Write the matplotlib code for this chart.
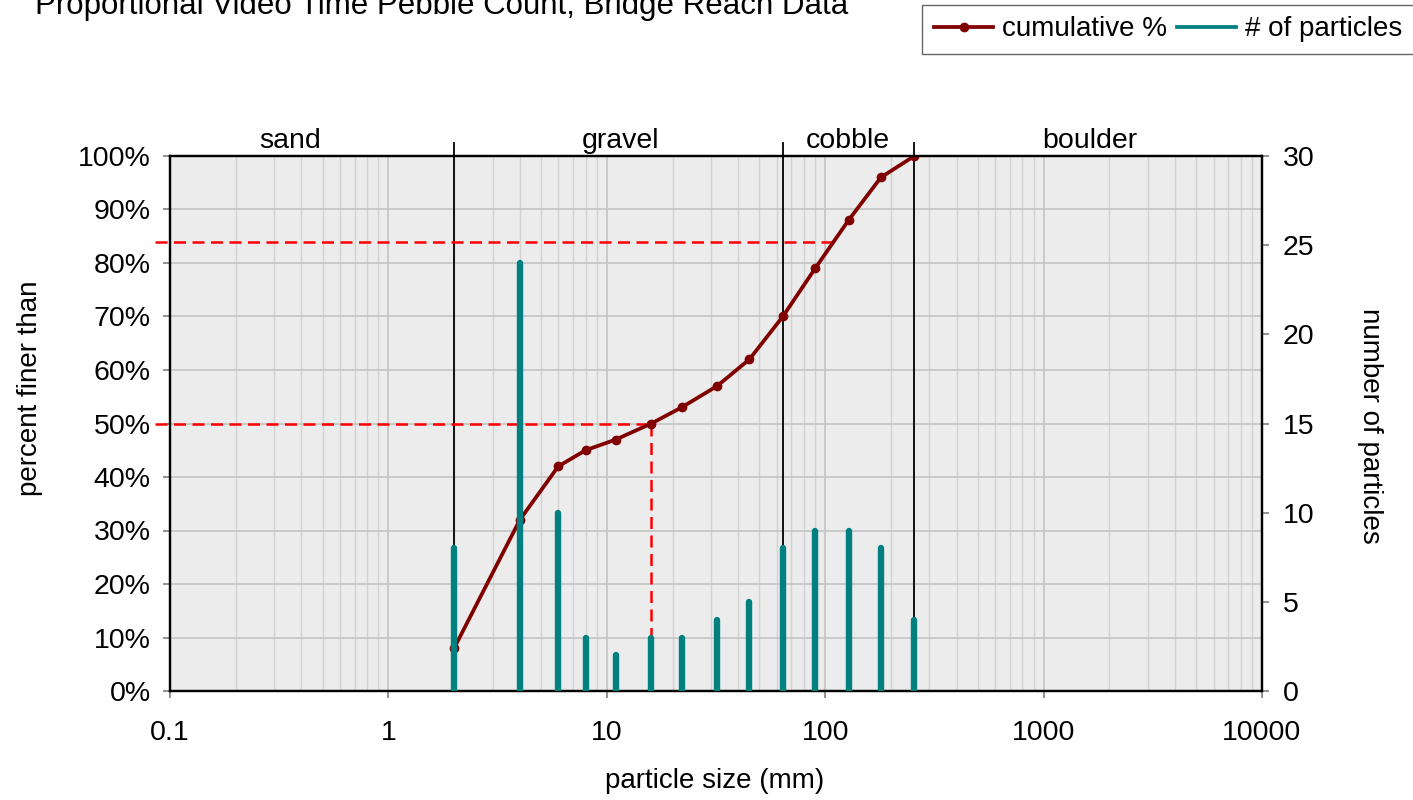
import numpy as np
import matplotlib
matplotlib.use('Agg')
import matplotlib.pyplot as plt
from matplotlib.ticker import FuncFormatter, LogLocator, FixedLocator

plt.rcParams['font.family'] = ['Liberation Sans', 'DejaVu Sans']

# particle sizes (mm), counts and cumulative percent finer
sizes = [2, 4, 6, 8, 11, 16, 22, 32, 45, 64, 90, 128, 180, 256,
         362, 512, 1024, 2048, 4096]
counts = [8, 24, 10, 3, 2, 3, 3, 4, 5, 8, 9, 9, 8, 4, 0, 0, 0, 0, 0]
cum_sizes = [2, 4, 6, 8, 11, 16, 22, 32, 45, 64, 90, 128, 180, 256]
cum_pct = [8, 32, 42, 45, 47, 50, 53, 57, 62, 70, 79, 88, 96, 100]

class_bounds = [2, 64, 256]
class_names = ['sand', 'gravel', 'cobble', 'boulder']
class_centers = [0.354, 11.5, 127, 1630]
d50, d84 = 16, 109

fs = 20.5

fig = plt.figure(figsize=(14.13, 8), dpi=100)
ax = fig.add_axes([0.1203, 0.13625, 0.7728, 0.66875])
ax2 = ax.twinx()

ax.set_facecolor('#ececec')
ax.set_xscale('log')
ax.set_xlim(0.1, 10000)
ax.set_ylim(0, 100)
ax2.set_ylim(0, 30)

# grid
ax.xaxis.set_minor_locator(LogLocator(base=10, subs=np.arange(2, 10)))
ax.grid(True, which='major', axis='both', color='#c4c4c4', lw=1.2)
ax.grid(True, which='minor', axis='x', color='#d2d2d2', lw=1.0)
ax.set_axisbelow(True)

# curve
ax.plot(cum_sizes, cum_pct, color='#800000', lw=2.7, marker='o', ms=6,
        zorder=5, label='cumulative %')

# size class boundaries
for b in class_bounds:
    ax.plot([b, b], [0, 102.5], color='black', lw=1.3, clip_on=False,
            zorder=3)
for name, c in zip(class_names, class_centers):
    ax.text(c, 101.5, name, ha='center', va='baseline', fontsize=fs)

# D50 / D84 guides
xstart = 10 ** (-1 - 15 / 218.4)
dash = (0, (4.8, 2.6))
ax.plot([xstart, d50], [50, 50], color='red', lw=1.8, ls=dash,
        clip_on=False, zorder=4)
ax.plot([d50, d50], [50, 0], color='red', lw=1.8, ls=dash, zorder=4)
ax.plot([xstart, d84], [84, 84], color='red', lw=1.8, ls=dash,
        clip_on=False, zorder=4)

# bars of particle counts
ax2.vlines(sizes, 0, counts, color='#008080', lw=4.6, capstyle='round',
           zorder=3)
ax2.plot([], [], color='#008080', lw=2.7, label='# of particles')

# ticks
ax.set_yticks(np.arange(0, 101, 10))
ax.yaxis.set_major_formatter(FuncFormatter(lambda v, p: '%d%%' % v))
ax.xaxis.set_major_locator(FixedLocator([0.1, 1, 10, 100, 1000, 10000]))
ax.xaxis.set_major_formatter(FuncFormatter(lambda v, p: '%g' % v))
ax.tick_params(axis='x', which='minor', length=0)
ax.tick_params(axis='y', which='major', labelsize=fs, color='#808080',
               length=5, width=1.2, direction='out', pad=9)
ax.tick_params(axis='x', which='major', labelsize=fs, color='#808080',
               length=5, width=1.2, direction='out', pad=16)
ax2.set_yticks(np.arange(0, 31, 5))
ax2.tick_params(axis='y', labelsize=fs, color='#808080', length=5,
                width=1.2, direction='out', pad=10)

for a in (ax, ax2):
    for s in a.spines.values():
        s.set_linewidth(1.6)
        s.set_color('black')

ax.set_ylabel('percent finer than', fontsize=20, va='center')
ax.yaxis.set_label_coords(-0.128, 0.566)
ax2.set_ylabel('number of particles', fontsize=20, rotation=-90,
               va='center')
ax2.yaxis.set_label_coords(1.099, 0.496)
ax.set_xlabel('particle size (mm)', fontsize=20, va='center')
ax.xaxis.set_label_coords(0.499, -0.168)

fig.text(0.025, 0.982, 'Proportional Video Time Pebble Count, Bridge Reach Data',
         fontsize=22.5, va='baseline', ha='left')

h1, l1 = ax.get_legend_handles_labels()
h2, l2 = ax2.get_legend_handles_labels()
leg = fig.legend(h1 + h2, l1 + l2, loc='upper left',
                 bbox_to_anchor=(0.6525, 0.994), ncol=2, fontsize=20,
                 frameon=True, fancybox=False, edgecolor='#404040',
                 handlelength=2.15, handletextpad=0.3, columnspacing=0.36,
                 borderpad=0.42, borderaxespad=0)
leg.get_frame().set_linewidth(1.0)

fig.savefig('out.png', dpi=100)
